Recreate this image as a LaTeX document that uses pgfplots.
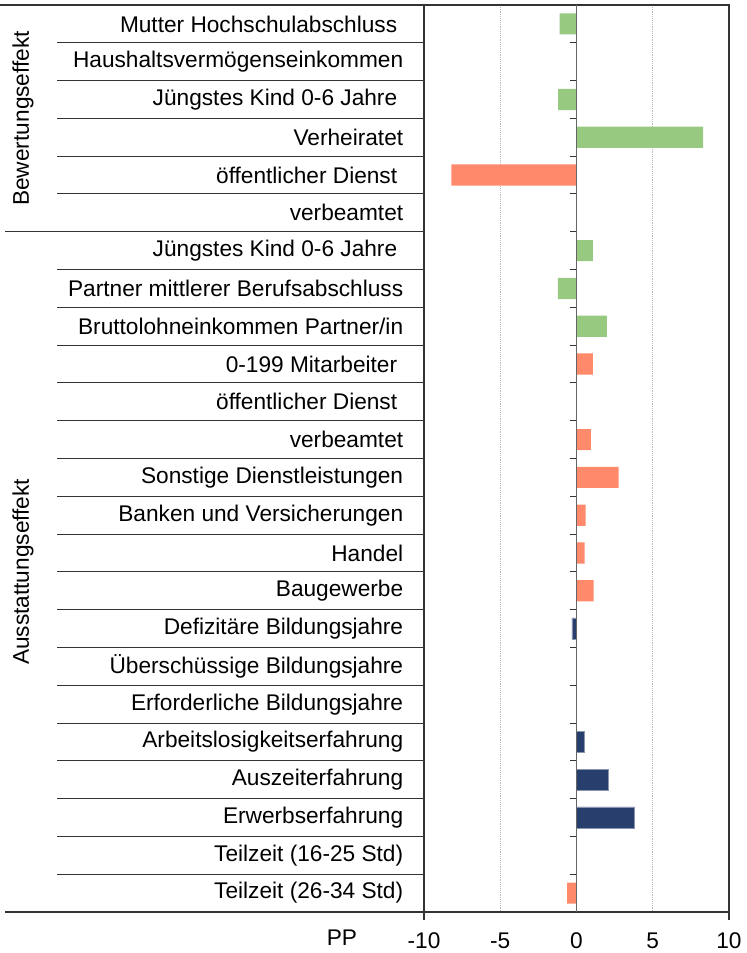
\documentclass[border=0pt]{standalone}
\usepackage{fontspec}
\setmainfont{Liberation Sans}
\usepackage{pgfplots}
\pgfplotsset{compat=1.18}
\definecolor{cgreen}{HTML}{97C981}
\definecolor{corange}{HTML}{FF8A6B}
\definecolor{cnavy}{HTML}{283F6E}
\definecolor{cline}{HTML}{333333}
\newcommand{\tsp}{\kern4.5pt}
\begin{document}
\fontsize{17}{20}\selectfont
\begin{tikzpicture}
\begin{axis}[
  name=ax,
  scale only axis, width=228.75pt, height=680.25pt,
  xbar, bar width=0.56,
  xmin=-10, xmax=10, ymin=-0.5, ymax=23.5, y dir=reverse,
  clip=false,
  axis line style={cline, line width=0.8pt},
  xtick={-10,-5,0,5,10},
  ytick={0,...,23},
  yticklabels={{Mutter Hochschulabschluss\tsp},{Haushaltsvermögenseinkommen},{Jüngstes Kind 0-6 Jahre\tsp},{Verheiratet},{öffentlicher Dienst\tsp},{verbeamtet},
    {Jüngstes Kind 0-6 Jahre\tsp},{Partner mittlerer Berufsabschluss},{Bruttolohneinkommen Partner/in},{0-199 Mitarbeiter\tsp},{öffentlicher Dienst\tsp},{verbeamtet},
    {Sonstige Dienstleistungen},{Banken und Versicherungen},{Handel},{Baugewerbe},{Defizitäre Bildungsjahre},{Überschüssige Bildungsjahre},
    {Erforderliche Bildungsjahre},{Arbeitslosigkeitserfahrung},{Auszeiterfahrung},{Erwerbserfahrung},{Teilzeit (16-25 Std)},{Teilzeit (26-34 Std)}},
  major tick length=0pt,
  tick style={draw=none},
  yticklabel style={anchor=east, xshift=-9.75pt},
  xticklabel style={yshift=-9.5pt},
  /pgf/number format/assume math mode=true,
  xmajorgrids,
  grid style={densely dotted, gray!55, line width=0.6pt},
]
% green series
\addplot[fill=cgreen, draw=none, bar shift=0pt] coordinates {
  (-1.1,0) (-1.2,2) (8.3,3) (1.07,6) (-1.22,7) (2.0,8)
};
% orange series
\addplot[fill=corange, draw=none, bar shift=0pt] coordinates {
  (-8.2,4) (1.07,9) (0.94,11) (2.77,12) (0.6,13) (0.54,14) (1.13,15) (-0.62,23)
};
% navy series
\addplot[fill=cnavy, draw=cnavy!55!white, line width=0.5pt, bar shift=0pt] coordinates {
  (-0.3,16) (0.54,19) (2.07,20) (3.8,21)
};
% zero line and its ticks
\draw[gray!80!black, line width=1.4pt] (axis cs:0,-0.5) -- (axis cs:0,23.5);
\pgfplotsinvokeforeach{-0.5,0.5,1.5,2.5,3.5,4.5,5.5,6.5,7.5,8.5,9.5,10.5,11.5,12.5,13.5,14.5,15.5,16.5,17.5,18.5,19.5,20.5,21.5,22.5}{
  \draw[cline, line width=0.8pt] (axis cs:0,#1) -- ([xshift=-5pt]axis cs:0,#1);
}
% row separators in the label area
\pgfplotsinvokeforeach{0.5,1.5,2.5,3.5,4.5,6.5,7.5,8.5,9.5,10.5,11.5,12.5,13.5,14.5,15.5,16.5,17.5,18.5,19.5,20.5,21.5,22.5}{
  \draw[cline, line width=0.8pt] (axis cs:-10,#1) -- ([xshift=-275.25pt]axis cs:-10,#1);
}
% group separators
\draw[cline, line width=0.8pt] (axis cs:-10,-0.5) -- ([xshift=-318pt]axis cs:-10,-0.5);
\draw[cline, line width=0.8pt] (axis cs:-10,5.5) -- ([xshift=-314.25pt]axis cs:-10,5.5);
\draw[cline, line width=0.8pt] (axis cs:-10,23.5) -- ([xshift=-314.25pt]axis cs:-10,23.5);
% x ticks below the axis
\draw[cline, line width=0.8pt] (axis cs:-10,23.5) -- ([yshift=-6pt]axis cs:-10,23.5);
\draw[cline, line width=0.8pt] (axis cs:10,23.5) -- ([yshift=-6pt]axis cs:10,23.5);
% group labels
\node[rotate=90, anchor=center] at ([xshift=-300.75pt]axis cs:-10,2.5) {Bewertungseffekt};
\node[rotate=90, anchor=center] at ([xshift=-300.75pt]axis cs:-10,14.5) {Ausstattungseffekt};
% PP label
\node[anchor=center] at ([xshift=-61.5pt, yshift=-19.5pt]axis cs:-10,23.5) {PP};
\end{axis}
\path (ax.south west) ++(-318pt,-30.75pt) coordinate (bl);
\path (ax.north east) ++(12.75pt,3.75pt) coordinate (tr);
\pgfresetboundingbox
\path[use as bounding box] (bl) rectangle (tr);
\end{tikzpicture}
\end{document}
